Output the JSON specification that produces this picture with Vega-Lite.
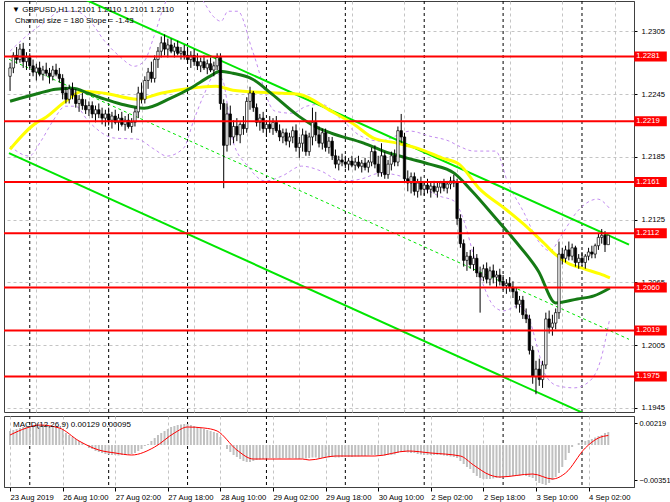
{
"$schema":"https://vega.github.io/schema/vega-lite/v6.json",
"background":"white",
"padding":{"left":2,"top":0,"right":0,"bottom":0},
"spacing":2,
"config":{"view":{"stroke":"#404040","strokeWidth":1},"font":"Liberation Sans",
"axis":{"labelFont":"Liberation Sans","labelFontSize":7.7,"labelColor":"#000","tickColor":"#000","domainColor":"#404040","title":null}},
"datasets":{
"seps":[{"i":6},{"i":30},{"i":54},{"i":78},{"i":102},{"i":126},{"i":150},{"i":174}],
"hlines":[{"p":1.2281},{"p":1.2219},{"p":1.2161},{"p":1.2112},{"p":1.2060},{"p":1.2019},{"p":1.1975}],
"chan":[{"ln":"upper","i":-0.32,"p":1.23682},{"ln":"upper","i":188.3,"p":1.21011},{"ln":"lower","i":-0.32,"p":1.21885},{"ln":"lower","i":188.3,"p":1.19202}],
"chanMid":[{"i":-0.32,"p":1.22783},{"i":188.3,"p":1.20105}],
"yellow":[{"i":0,"p":1.21923},{"i":8.8,"p":1.22191},{"i":10,"p":1.2221},{"i":16.9,"p":1.22382},{"i":22,"p":1.22478},{"i":28.8,"p":1.22458},{"i":38.7,"p":1.22401},{"i":45.9,"p":1.22458},{"i":54.9,"p":1.22506},{"i":62.7,"p":1.22525},{"i":67.8,"p":1.22487},{"i":82.7,"p":1.22458},{"i":87.8,"p":1.22449},{"i":97.7,"p":1.22287},{"i":104.6,"p":1.22162},{"i":110.6,"p":1.22029},{"i":117.8,"p":1.21981},{"i":123.8,"p":1.21933},{"i":131.5,"p":1.21838},{"i":136.6,"p":1.2178},{"i":142.6,"p":1.21551},{"i":150.7,"p":1.21351},{"i":157.6,"p":1.21169},{"i":162.7,"p":1.21016},{"i":165.7,"p":1.20921},{"i":169.6,"p":1.20835},{"i":174.7,"p":1.20778},{"i":179.5,"p":1.2073},{"i":182.5,"p":1.20692}],
"green":[{"i":0,"p":1.22382},{"i":8.8,"p":1.22458},{"i":13.9,"p":1.22497},{"i":19,"p":1.22506},{"i":23.8,"p":1.22458},{"i":28.8,"p":1.22401},{"i":33.9,"p":1.22353},{"i":40.8,"p":1.22315},{"i":48.9,"p":1.22411},{"i":54.9,"p":1.22506},{"i":60.9,"p":1.22621},{"i":63.9,"p":1.22668},{"i":67.8,"p":1.22649},{"i":73.8,"p":1.22592},{"i":79.7,"p":1.22449},{"i":87.8,"p":1.22239},{"i":92.6,"p":1.22143},{"i":97.7,"p":1.22076},{"i":107.6,"p":1.21981},{"i":113.6,"p":1.21905},{"i":120.8,"p":1.21838},{"i":127.6,"p":1.2178},{"i":135.1,"p":1.21694},{"i":140.5,"p":1.21523},{"i":147.7,"p":1.21265},{"i":153.7,"p":1.21045},{"i":160.7,"p":1.20759},{"i":166,"p":1.20453},{"i":172.6,"p":1.20491},{"i":177.6,"p":1.2052},{"i":182.5,"p":1.20596}],
"bbU":[{"i":0,"p":1.2286},{"i":4.9,"p":1.23003},{"i":10.9,"p":1.23146},{"i":15.4,"p":1.23242},{"i":19.9,"p":1.23242},{"i":24.4,"p":1.23146},{"i":28.8,"p":1.22955},{"i":33.3,"p":1.22812},{"i":37.8,"p":1.22716},{"i":40.8,"p":1.22764},{"i":43.8,"p":1.23003},{"i":46.8,"p":1.23289},{"i":49.8,"p":1.2348},{"i":54.3,"p":1.23528},{"i":58.8,"p":1.23337},{"i":61.8,"p":1.23194},{"i":64.2,"p":1.23146},{"i":66.3,"p":1.23242},{"i":69.3,"p":1.23242},{"i":73.8,"p":1.2286},{"i":80.6,"p":1.22287},{"i":85.7,"p":1.22267},{"i":90.2,"p":1.22334},{"i":94.7,"p":1.22353},{"i":100.7,"p":1.2221},{"i":106.7,"p":1.22048},{"i":112.7,"p":1.22},{"i":117.2,"p":1.22048},{"i":121.7,"p":1.22096},{"i":127.6,"p":1.22048},{"i":133.6,"p":1.22},{"i":136.6,"p":1.21952},{"i":141.1,"p":1.21905},{"i":147.7,"p":1.21905},{"i":151.6,"p":1.21589},{"i":156.1,"p":1.21331},{"i":160.7,"p":1.21045},{"i":164.3,"p":1.2095},{"i":167.6,"p":1.21093},{"i":172.7,"p":1.21332},{"i":178.7,"p":1.21446},{"i":182.3,"p":1.2136}],
"bbL":[{"i":0,"p":1.21952},{"i":5.8,"p":1.21857},{"i":9.4,"p":1.22},{"i":13,"p":1.22191},{"i":16.9,"p":1.22334},{"i":19.9,"p":1.22334},{"i":23.8,"p":1.22191},{"i":31.8,"p":1.22029},{"i":38.7,"p":1.22019},{"i":43.8,"p":1.21924},{"i":47.7,"p":1.21857},{"i":52.8,"p":1.21933},{"i":55.8,"p":1.22191},{"i":58.8,"p":1.2243},{"i":62.7,"p":1.22649},{"i":64.8,"p":1.22573},{"i":67.8,"p":1.22},{"i":72.3,"p":1.21761},{"i":77.6,"p":1.21618},{"i":82.7,"p":1.21666},{"i":88.7,"p":1.21761},{"i":94.7,"p":1.21713},{"i":100.7,"p":1.21618},{"i":106.7,"p":1.21637},{"i":112.7,"p":1.21694},{"i":118.7,"p":1.21666},{"i":124.6,"p":1.2157},{"i":130.6,"p":1.21475},{"i":135.1,"p":1.21427},{"i":138.1,"p":1.21236},{"i":141.1,"p":1.20902},{"i":144.1,"p":1.20615},{"i":147.1,"p":1.20424},{"i":150.1,"p":1.20377},{"i":154.6,"p":1.20424},{"i":157.6,"p":1.20329},{"i":160.7,"p":1.19995},{"i":162.7,"p":1.19775},{"i":166.6,"p":1.1966},{"i":171.7,"p":1.19641},{"i":175.7,"p":1.19689},{"i":179.6,"p":1.19899},{"i":182.3,"p":1.20281}],
"sig":[{"i":0,"v":0.0010},{"i":5,"v":0.0017},{"i":9,"v":0.0020},{"i":15,"v":0.0017},{"i":21,"v":0.0004},{"i":27,"v":-0.0005},{"i":32,"v":-0.0008},{"i":37,"v":-0.0010},{"i":44,"v":-0.0002},{"i":50,"v":0.0012},{"i":54,"v":0.0018},{"i":59,"v":0.0017},{"i":63,"v":0.0014},{"i":69,"v":-0.0005},{"i":74,"v":-0.0014},{"i":89,"v":-0.0014},{"i":91,"v":-0.0015},{"i":99,"v":-0.0011},{"i":111,"v":-0.0011},{"i":121,"v":-0.0006},{"i":128,"v":-0.0008},{"i":137,"v":-0.0011},{"i":141,"v":-0.0020},{"i":146,"v":-0.0030},{"i":149,"v":-0.0032},{"i":159,"v":-0.0029},{"i":165,"v":-0.0034},{"i":169,"v":-0.0028},{"i":175,"v":-0.0003},{"i":179,"v":0.0007},{"i":182,"v":0.00095}],
"macd":[{"i":0,"v":0.0014},{"i":1,"v":0.0015},{"i":2,"v":0.0016},{"i":3,"v":0.0017},{"i":4,"v":0.0018},{"i":5,"v":0.00185},{"i":6,"v":0.0019},{"i":7,"v":0.00195},{"i":8,"v":0.002},{"i":9,"v":0.002},{"i":10,"v":0.002},{"i":11,"v":0.00195},{"i":12,"v":0.0019},{"i":13,"v":0.0019},{"i":14,"v":0.0018},{"i":15,"v":0.0017},{"i":16,"v":0.0015},{"i":17,"v":0.0012},{"i":18,"v":0.001},{"i":19,"v":0.0008},{"i":20,"v":0.0006},{"i":21,"v":0.0004},{"i":22,"v":0.0002},{"i":23,"v":0.0},{"i":24,"v":-0.0003},{"i":25,"v":-0.0004},{"i":26,"v":-0.0006},{"i":27,"v":-0.0007},{"i":28,"v":-0.0008},{"i":29,"v":-0.0009},{"i":30,"v":-0.00095},{"i":31,"v":-0.001},{"i":32,"v":-0.001},{"i":33,"v":-0.00105},{"i":34,"v":-0.001},{"i":35,"v":-0.001},{"i":36,"v":-0.00095},{"i":37,"v":-0.0009},{"i":38,"v":-0.0008},{"i":39,"v":-0.0006},{"i":40,"v":-0.0004},{"i":41,"v":-0.0001},{"i":42,"v":0.0001},{"i":43,"v":0.0004},{"i":44,"v":0.0007},{"i":45,"v":0.001},{"i":46,"v":0.0012},{"i":47,"v":0.0014},{"i":48,"v":0.0016},{"i":49,"v":0.0018},{"i":50,"v":0.0019},{"i":51,"v":0.002},{"i":52,"v":0.00205},{"i":53,"v":0.0021},{"i":54,"v":0.0021},{"i":55,"v":0.002},{"i":56,"v":0.0019},{"i":57,"v":0.0018},{"i":58,"v":0.0017},{"i":59,"v":0.0016},{"i":60,"v":0.0015},{"i":61,"v":0.0014},{"i":62,"v":0.0013},{"i":63,"v":0.0012},{"i":64,"v":0.0008},{"i":65,"v":0.0},{"i":66,"v":-0.0004},{"i":67,"v":-0.0007},{"i":68,"v":-0.001},{"i":69,"v":-0.0012},{"i":70,"v":-0.0014},{"i":71,"v":-0.0016},{"i":72,"v":-0.0017},{"i":73,"v":-0.0017},{"i":74,"v":-0.0016},{"i":75,"v":-0.0015},{"i":76,"v":-0.00145},{"i":77,"v":-0.0014},{"i":78,"v":-0.00135},{"i":79,"v":-0.0013},{"i":80,"v":-0.0013},{"i":81,"v":-0.0013},{"i":82,"v":-0.00135},{"i":83,"v":-0.0013},{"i":84,"v":-0.0013},{"i":85,"v":-0.00135},{"i":86,"v":-0.0013},{"i":87,"v":-0.00135},{"i":88,"v":-0.0014},{"i":89,"v":-0.00135},{"i":90,"v":-0.00135},{"i":91,"v":-0.0013},{"i":92,"v":-0.00125},{"i":93,"v":-0.00125},{"i":94,"v":-0.0013},{"i":95,"v":-0.0013},{"i":96,"v":-0.00125},{"i":97,"v":-0.00125},{"i":98,"v":-0.0012},{"i":99,"v":-0.00125},{"i":100,"v":-0.00125},{"i":101,"v":-0.0012},{"i":102,"v":-0.0012},{"i":103,"v":-0.0012},{"i":104,"v":-0.0012},{"i":105,"v":-0.00115},{"i":106,"v":-0.00115},{"i":107,"v":-0.0011},{"i":108,"v":-0.0011},{"i":109,"v":-0.00105},{"i":110,"v":-0.001},{"i":111,"v":-0.001},{"i":112,"v":-0.00105},{"i":113,"v":-0.001},{"i":114,"v":-0.00105},{"i":115,"v":-0.001},{"i":116,"v":-0.001},{"i":117,"v":-0.00095},{"i":118,"v":-0.0008},{"i":119,"v":-0.0007},{"i":120,"v":-0.0007},{"i":121,"v":-0.00075},{"i":122,"v":-0.0008},{"i":123,"v":-0.0008},{"i":124,"v":-0.0009},{"i":125,"v":-0.00095},{"i":126,"v":-0.001},{"i":127,"v":-0.001},{"i":128,"v":-0.001},{"i":129,"v":-0.001},{"i":130,"v":-0.001},{"i":131,"v":-0.001},{"i":132,"v":-0.00105},{"i":133,"v":-0.0011},{"i":134,"v":-0.00115},{"i":135,"v":-0.0012},{"i":136,"v":-0.0013},{"i":137,"v":-0.0016},{"i":138,"v":-0.0019},{"i":139,"v":-0.0022},{"i":140,"v":-0.0024},{"i":141,"v":-0.0028},{"i":142,"v":-0.0031},{"i":143,"v":-0.0033},{"i":144,"v":-0.0034},{"i":145,"v":-0.0034},{"i":146,"v":-0.0034},{"i":147,"v":-0.00335},{"i":148,"v":-0.0033},{"i":149,"v":-0.0033},{"i":150,"v":-0.00325},{"i":151,"v":-0.0032},{"i":152,"v":-0.00315},{"i":153,"v":-0.0031},{"i":154,"v":-0.0031},{"i":155,"v":-0.00305},{"i":156,"v":-0.003},{"i":157,"v":-0.0031},{"i":158,"v":-0.0032},{"i":159,"v":-0.0033},{"i":160,"v":-0.0036},{"i":161,"v":-0.0038},{"i":162,"v":-0.0039},{"i":163,"v":-0.004},{"i":164,"v":-0.0038},{"i":165,"v":-0.0035},{"i":166,"v":-0.0032},{"i":167,"v":-0.0028},{"i":168,"v":-0.0022},{"i":169,"v":-0.0015},{"i":170,"v":-0.0008},{"i":171,"v":-0.0002},{"i":172,"v":0.0},{"i":173,"v":0.0002},{"i":174,"v":0.0003},{"i":175,"v":0.0004},{"i":176,"v":0.0005},{"i":177,"v":0.0006},{"i":178,"v":0.00075},{"i":179,"v":0.0009},{"i":180,"v":0.001},{"i":181,"v":0.0012},{"i":182,"v":0.00129}],
"candles":[
{"i":0,"o":1.2262,"h":1.2275,"l":1.2248,"c":1.227},{"i":1,"o":1.227,"h":1.2285,"l":1.2265,"c":1.2282},{"i":2,"o":1.2282,"h":1.229,"l":1.2274,"c":1.2278},{"i":3,"o":1.2278,"h":1.2293,"l":1.2275,"c":1.2288},{"i":4,"o":1.2288,"h":1.2294,"l":1.227,"c":1.2276},{"i":5,"o":1.2276,"h":1.2285,"l":1.2268,"c":1.228},
{"i":6,"o":1.228,"h":1.2284,"l":1.227,"c":1.2272},{"i":7,"o":1.2272,"h":1.2278,"l":1.2262,"c":1.2266},{"i":8,"o":1.2266,"h":1.2274,"l":1.2258,"c":1.227},{"i":9,"o":1.227,"h":1.2276,"l":1.2262,"c":1.2264},{"i":10,"o":1.2264,"h":1.2272,"l":1.2258,"c":1.2268},{"i":11,"o":1.2268,"h":1.2275,"l":1.2262,"c":1.2265},{"i":12,"o":1.2265,"h":1.227,"l":1.2255,"c":1.2262},{"i":13,"o":1.2262,"h":1.2272,"l":1.2258,"c":1.2268},{"i":14,"o":1.2268,"h":1.2274,"l":1.2262,"c":1.2264},{"i":15,"o":1.2264,"h":1.227,"l":1.2256,"c":1.226},{"i":16,"o":1.226,"h":1.2264,"l":1.224,"c":1.2246},{"i":17,"o":1.2246,"h":1.2252,"l":1.2236,"c":1.224},{"i":18,"o":1.224,"h":1.2254,"l":1.2236,"c":1.225},{"i":19,"o":1.225,"h":1.2256,"l":1.224,"c":1.2244},{"i":20,"o":1.2244,"h":1.225,"l":1.2232,"c":1.2236},{"i":21,"o":1.2236,"h":1.2244,"l":1.2228,"c":1.224},{"i":22,"o":1.224,"h":1.2246,"l":1.223,"c":1.2234},{"i":23,"o":1.2234,"h":1.224,"l":1.2226,"c":1.223},{"i":24,"o":1.223,"h":1.2238,"l":1.2224,"c":1.2234},{"i":25,"o":1.2234,"h":1.2238,"l":1.2222,"c":1.2226},{"i":26,"o":1.2226,"h":1.2234,"l":1.2218,"c":1.223},{"i":27,"o":1.223,"h":1.2236,"l":1.2222,"c":1.2226},{"i":28,"o":1.2226,"h":1.2232,"l":1.2216,"c":1.2222},{"i":29,"o":1.2222,"h":1.223,"l":1.2214,"c":1.2226},
{"i":30,"o":1.2226,"h":1.2232,"l":1.2215,"c":1.222},{"i":31,"o":1.222,"h":1.2228,"l":1.2212,"c":1.2224},{"i":32,"o":1.2224,"h":1.223,"l":1.2216,"c":1.2218},{"i":33,"o":1.2218,"h":1.2226,"l":1.221,"c":1.2222},{"i":34,"o":1.2222,"h":1.2228,"l":1.2214,"c":1.2216},{"i":35,"o":1.2216,"h":1.2224,"l":1.221,"c":1.222},{"i":36,"o":1.222,"h":1.2226,"l":1.2212,"c":1.2214},{"i":37,"o":1.2214,"h":1.2222,"l":1.2208,"c":1.2218},{"i":38,"o":1.2218,"h":1.2232,"l":1.2214,"c":1.2228},{"i":39,"o":1.2228,"h":1.2252,"l":1.2222,"c":1.2246},{"i":40,"o":1.2246,"h":1.2256,"l":1.2236,"c":1.224},{"i":41,"o":1.224,"h":1.2262,"l":1.2236,"c":1.2258},{"i":42,"o":1.2258,"h":1.227,"l":1.225,"c":1.2266},{"i":43,"o":1.2266,"h":1.2276,"l":1.2256,"c":1.226},{"i":44,"o":1.226,"h":1.2282,"l":1.2256,"c":1.2278},{"i":45,"o":1.2278,"h":1.229,"l":1.227,"c":1.2286},{"i":46,"o":1.2286,"h":1.23,"l":1.228,"c":1.2294},{"i":47,"o":1.2294,"h":1.2302,"l":1.2282,"c":1.2288},{"i":48,"o":1.2288,"h":1.2298,"l":1.228,"c":1.2292},{"i":49,"o":1.2292,"h":1.2298,"l":1.2284,"c":1.2286},{"i":50,"o":1.2286,"h":1.2294,"l":1.228,"c":1.229},{"i":51,"o":1.229,"h":1.2296,"l":1.2282,"c":1.2284},{"i":52,"o":1.2284,"h":1.229,"l":1.2278,"c":1.2286},{"i":53,"o":1.2286,"h":1.2292,"l":1.2278,"c":1.2282},
{"i":54,"o":1.2282,"h":1.229,"l":1.2274,"c":1.2278},{"i":55,"o":1.2278,"h":1.2286,"l":1.227,"c":1.2282},{"i":56,"o":1.2282,"h":1.2288,"l":1.2272,"c":1.2276},{"i":57,"o":1.2276,"h":1.2284,"l":1.2268,"c":1.2272},{"i":58,"o":1.2272,"h":1.228,"l":1.2266,"c":1.2276},{"i":59,"o":1.2276,"h":1.2282,"l":1.2268,"c":1.227},{"i":60,"o":1.227,"h":1.2278,"l":1.2264,"c":1.2274},{"i":61,"o":1.2274,"h":1.228,"l":1.2266,"c":1.2268},{"i":62,"o":1.2268,"h":1.2276,"l":1.2262,"c":1.2272},{"i":63,"o":1.2272,"h":1.2284,"l":1.2268,"c":1.228},{"i":64,"o":1.228,"h":1.2284,"l":1.223,"c":1.2236},{"i":65,"o":1.2236,"h":1.224,"l":1.2155,"c":1.2196},{"i":66,"o":1.2196,"h":1.2236,"l":1.219,"c":1.2226},{"i":67,"o":1.2226,"h":1.2234,"l":1.2196,"c":1.2204},{"i":68,"o":1.2204,"h":1.222,"l":1.2198,"c":1.2214},{"i":69,"o":1.2214,"h":1.2222,"l":1.22,"c":1.2206},{"i":70,"o":1.2206,"h":1.2218,"l":1.2198,"c":1.2216},{"i":71,"o":1.2216,"h":1.2224,"l":1.2206,"c":1.2212},{"i":72,"o":1.2212,"h":1.2242,"l":1.2208,"c":1.2238},{"i":73,"o":1.2238,"h":1.2252,"l":1.223,"c":1.2246},{"i":74,"o":1.2246,"h":1.2248,"l":1.2228,"c":1.2232},{"i":75,"o":1.2232,"h":1.2236,"l":1.2214,"c":1.2218},{"i":76,"o":1.2218,"h":1.2226,"l":1.221,"c":1.2222},{"i":77,"o":1.2222,"h":1.2228,"l":1.2208,"c":1.2212},
{"i":78,"o":1.2212,"h":1.222,"l":1.2204,"c":1.2216},{"i":79,"o":1.2216,"h":1.2224,"l":1.2208,"c":1.2212},{"i":80,"o":1.2212,"h":1.2222,"l":1.2206,"c":1.2218},{"i":81,"o":1.2218,"h":1.2224,"l":1.2208,"c":1.221},{"i":82,"o":1.221,"h":1.2216,"l":1.22,"c":1.2204},{"i":83,"o":1.2204,"h":1.2212,"l":1.2198,"c":1.2208},{"i":84,"o":1.2208,"h":1.2212,"l":1.2196,"c":1.22},{"i":85,"o":1.22,"h":1.2208,"l":1.2194,"c":1.2204},{"i":86,"o":1.2204,"h":1.2214,"l":1.2198,"c":1.221},{"i":87,"o":1.221,"h":1.2216,"l":1.219,"c":1.2194},{"i":88,"o":1.2194,"h":1.2204,"l":1.2184,"c":1.2198},{"i":89,"o":1.2198,"h":1.2212,"l":1.219,"c":1.2206},{"i":90,"o":1.2206,"h":1.221,"l":1.2186,"c":1.219},{"i":91,"o":1.219,"h":1.2208,"l":1.2186,"c":1.2204},{"i":92,"o":1.2204,"h":1.2232,"l":1.2196,"c":1.2218},{"i":93,"o":1.2218,"h":1.2228,"l":1.22,"c":1.2206},{"i":94,"o":1.2206,"h":1.2214,"l":1.2194,"c":1.2198},{"i":95,"o":1.2198,"h":1.2212,"l":1.2192,"c":1.2208},{"i":96,"o":1.2208,"h":1.2212,"l":1.219,"c":1.2194},{"i":97,"o":1.2194,"h":1.2204,"l":1.2188,"c":1.22},{"i":98,"o":1.22,"h":1.2204,"l":1.2182,"c":1.2186},{"i":99,"o":1.2186,"h":1.2192,"l":1.2174,"c":1.2178},{"i":100,"o":1.2178,"h":1.2186,"l":1.2172,"c":1.2182},{"i":101,"o":1.2182,"h":1.2188,"l":1.2176,"c":1.218},
{"i":102,"o":1.218,"h":1.2186,"l":1.2174,"c":1.2178},{"i":103,"o":1.2178,"h":1.2184,"l":1.2172,"c":1.2181},{"i":104,"o":1.2181,"h":1.2186,"l":1.2175,"c":1.2177},{"i":105,"o":1.2177,"h":1.2184,"l":1.2172,"c":1.218},{"i":106,"o":1.218,"h":1.2186,"l":1.2174,"c":1.2176},{"i":107,"o":1.2176,"h":1.2182,"l":1.217,"c":1.2179},{"i":108,"o":1.2179,"h":1.2184,"l":1.2172,"c":1.2175},{"i":109,"o":1.2175,"h":1.2182,"l":1.217,"c":1.218},{"i":110,"o":1.218,"h":1.2194,"l":1.2176,"c":1.219},{"i":111,"o":1.219,"h":1.2196,"l":1.2174,"c":1.2178},{"i":112,"o":1.2178,"h":1.2186,"l":1.2166,"c":1.217},{"i":113,"o":1.217,"h":1.2198,"l":1.2166,"c":1.2186},{"i":114,"o":1.2186,"h":1.219,"l":1.2164,"c":1.2168},{"i":115,"o":1.2168,"h":1.2182,"l":1.2164,"c":1.2178},{"i":116,"o":1.2178,"h":1.219,"l":1.2172,"c":1.2186},{"i":117,"o":1.2186,"h":1.2192,"l":1.2176,"c":1.218},{"i":118,"o":1.218,"h":1.2214,"l":1.2176,"c":1.221},{"i":119,"o":1.221,"h":1.2226,"l":1.2198,"c":1.2204},{"i":120,"o":1.2204,"h":1.2208,"l":1.216,"c":1.2164},{"i":121,"o":1.2164,"h":1.2172,"l":1.2152,"c":1.216},{"i":122,"o":1.216,"h":1.217,"l":1.215,"c":1.2166},{"i":123,"o":1.2166,"h":1.217,"l":1.2148,"c":1.2152},{"i":124,"o":1.2152,"h":1.2164,"l":1.2146,"c":1.216},{"i":125,"o":1.216,"h":1.2166,"l":1.2148,"c":1.2154},
{"i":126,"o":1.2154,"h":1.2162,"l":1.2148,"c":1.2158},{"i":127,"o":1.2158,"h":1.2164,"l":1.215,"c":1.2154},{"i":128,"o":1.2154,"h":1.216,"l":1.2146,"c":1.2157},{"i":129,"o":1.2157,"h":1.2162,"l":1.215,"c":1.2152},{"i":130,"o":1.2152,"h":1.216,"l":1.2146,"c":1.2156},{"i":131,"o":1.2156,"h":1.2162,"l":1.215,"c":1.216},{"i":132,"o":1.216,"h":1.2164,"l":1.2152,"c":1.2155},{"i":133,"o":1.2155,"h":1.2162,"l":1.215,"c":1.2159},{"i":134,"o":1.2159,"h":1.2166,"l":1.2154,"c":1.2162},{"i":135,"o":1.2162,"h":1.2168,"l":1.2156,"c":1.216},{"i":136,"o":1.216,"h":1.2164,"l":1.212,"c":1.2126},{"i":137,"o":1.2126,"h":1.213,"l":1.2098,"c":1.2102},{"i":138,"o":1.2102,"h":1.2106,"l":1.208,"c":1.2086},{"i":139,"o":1.2086,"h":1.2094,"l":1.2076,"c":1.209},{"i":140,"o":1.209,"h":1.2096,"l":1.2078,"c":1.2082},{"i":141,"o":1.2082,"h":1.2099,"l":1.2076,"c":1.2088},{"i":142,"o":1.2088,"h":1.2092,"l":1.207,"c":1.2074},{"i":143,"o":1.2074,"h":1.208,"l":1.2036,"c":1.207},{"i":144,"o":1.207,"h":1.2082,"l":1.2066,"c":1.2078},{"i":145,"o":1.2078,"h":1.2084,"l":1.2064,"c":1.2068},{"i":146,"o":1.2068,"h":1.208,"l":1.2062,"c":1.2076},{"i":147,"o":1.2076,"h":1.2082,"l":1.2064,"c":1.207},{"i":148,"o":1.207,"h":1.2076,"l":1.206,"c":1.2072},{"i":149,"o":1.2072,"h":1.2078,"l":1.2062,"c":1.2066},
{"i":150,"o":1.2066,"h":1.2072,"l":1.2058,"c":1.2062},{"i":151,"o":1.2062,"h":1.2068,"l":1.2054,"c":1.2064},{"i":152,"o":1.2064,"h":1.207,"l":1.2056,"c":1.206},{"i":153,"o":1.206,"h":1.2066,"l":1.205,"c":1.2056},{"i":154,"o":1.2056,"h":1.206,"l":1.204,"c":1.2044},{"i":155,"o":1.2044,"h":1.2052,"l":1.2036,"c":1.2048},{"i":156,"o":1.2048,"h":1.2052,"l":1.203,"c":1.2034},{"i":157,"o":1.2034,"h":1.204,"l":1.2026,"c":1.203},{"i":158,"o":1.203,"h":1.2034,"l":1.1996,"c":1.2},{"i":159,"o":1.2,"h":1.2004,"l":1.1968,"c":1.1975},{"i":160,"o":1.1975,"h":1.199,"l":1.1958,"c":1.1982},{"i":161,"o":1.1982,"h":1.1992,"l":1.1966,"c":1.1972},{"i":162,"o":1.1972,"h":1.199,"l":1.1964,"c":1.1986},{"i":163,"o":1.1986,"h":1.2036,"l":1.1982,"c":1.203},{"i":164,"o":1.203,"h":1.2038,"l":1.2016,"c":1.2022},{"i":165,"o":1.2022,"h":1.2034,"l":1.2014,"c":1.2026},{"i":166,"o":1.2026,"h":1.204,"l":1.202,"c":1.2036},{"i":167,"o":1.2036,"h":1.2104,"l":1.203,"c":1.2092},{"i":168,"o":1.2092,"h":1.2098,"l":1.2082,"c":1.2088},{"i":169,"o":1.2088,"h":1.21,"l":1.2084,"c":1.2096},{"i":170,"o":1.2096,"h":1.2104,"l":1.2086,"c":1.209},{"i":171,"o":1.209,"h":1.2102,"l":1.2086,"c":1.2098},{"i":172,"o":1.2098,"h":1.21,"l":1.208,"c":1.2084},{"i":173,"o":1.2084,"h":1.2092,"l":1.2078,"c":1.2088},
{"i":174,"o":1.2088,"h":1.2094,"l":1.208,"c":1.2084},{"i":175,"o":1.2084,"h":1.2092,"l":1.2078,"c":1.209},{"i":176,"o":1.209,"h":1.2098,"l":1.2086,"c":1.2094},{"i":177,"o":1.2094,"h":1.21,"l":1.2088,"c":1.2092},{"i":178,"o":1.2092,"h":1.2102,"l":1.2088,"c":1.21},{"i":179,"o":1.21,"h":1.2112,"l":1.2096,"c":1.2108},{"i":180,"o":1.2108,"h":1.2116,"l":1.2102,"c":1.211},{"i":181,"o":1.211,"h":1.2114,"l":1.2094,"c":1.2101},{"i":182,"o":1.2101,"h":1.211,"l":1.2101,"c":1.211}
]},
"vconcat":[
{"width":630,"height":411,
"layer":[
{"data":{"name":"seps"},"mark":{"type":"rule","color":"#000","strokeDash":[3,3],"strokeWidth":1},
 "encoding":{"x":{"field":"i","type":"quantitative","scale":{"domain":[-0.32,188.3],"nice":false,"zero":false},
  "axis":{"values":[8,16,24,32,40,48,56,64,72,80,88,96,104,112,120,128,136,144,152,160,168,176,184],"labels":false,"ticks":false,"domain":false,"grid":true,"gridDash":[3,3],"gridColor":"#c4c4c4","gridWidth":1}}}},
{"data":{"name":"bbU"},"mark":{"type":"line","color":"#c38cf0","strokeWidth":1,"strokeDash":[3,3],"clip":true,"interpolate":"monotone"},
 "encoding":{"x":{"field":"i","type":"quantitative","scale":{"domain":[-0.32,188.3],"nice":false,"zero":false}},
  "y":{"field":"p","type":"quantitative","scale":{"domain":[1.1941,1.2334],"nice":false,"zero":false},
   "axis":{"orient":"right","values":[1.2305,1.2275,1.2245,1.2215,1.2185,1.2155,1.2125,1.2095,1.2065,1.2035,1.2005,1.1975,1.1945],"format":".4f","tickSize":3,"labelPadding":4,"grid":true,"gridDash":[3,3],"gridColor":"#c4c4c4","labelOverlap":false}}}},
{"data":{"name":"bbL"},"mark":{"type":"line","color":"#c38cf0","strokeWidth":1,"strokeDash":[3,3],"clip":true,"interpolate":"monotone"},
 "encoding":{"x":{"field":"i","type":"quantitative","scale":{"domain":[-0.32,188.3],"nice":false,"zero":false}},
  "y":{"field":"p","type":"quantitative","scale":{"domain":[1.1941,1.2334],"nice":false,"zero":false}}}},
{"data":{"name":"chanMid"},"mark":{"type":"line","color":"#00e600","strokeWidth":1,"strokeDash":[3,3],"clip":true},
 "encoding":{"x":{"field":"i","type":"quantitative","scale":{"domain":[-0.32,188.3],"nice":false,"zero":false}},
  "y":{"field":"p","type":"quantitative","scale":{"domain":[1.1941,1.2334],"nice":false,"zero":false}}}},
{"data":{"name":"chan"},"mark":{"type":"line","color":"#00e600","strokeWidth":2,"clip":true},
 "encoding":{"x":{"field":"i","type":"quantitative","scale":{"domain":[-0.32,188.3],"nice":false,"zero":false}},
  "y":{"field":"p","type":"quantitative","scale":{"domain":[1.1941,1.2334],"nice":false,"zero":false}},
  "detail":{"field":"ln","type":"nominal"}}},
{"data":{"name":"yellow"},"mark":{"type":"line","color":"#ffff00","strokeWidth":3,"clip":true,"interpolate":"monotone"},
 "encoding":{"x":{"field":"i","type":"quantitative","scale":{"domain":[-0.32,188.3],"nice":false,"zero":false}},
  "y":{"field":"p","type":"quantitative","scale":{"domain":[1.1941,1.2334],"nice":false,"zero":false}}}},
{"data":{"name":"green"},"mark":{"type":"line","color":"#157a15","strokeWidth":3,"clip":true,"interpolate":"monotone"},
 "encoding":{"x":{"field":"i","type":"quantitative","scale":{"domain":[-0.32,188.3],"nice":false,"zero":false}},
  "y":{"field":"p","type":"quantitative","scale":{"domain":[1.1941,1.2334],"nice":false,"zero":false}}}},
{"data":{"name":"candles"},"mark":{"type":"rule","color":"#000","strokeWidth":1,"clip":true},
 "encoding":{"x":{"field":"i","type":"quantitative","scale":{"domain":[-0.32,188.3],"nice":false,"zero":false}},
  "y":{"field":"l","type":"quantitative","scale":{"domain":[1.1941,1.2334],"nice":false,"zero":false}},
  "y2":{"field":"h"}}},
{"data":{"name":"candles"},"mark":{"type":"bar","size":2.4,"stroke":"#000","strokeWidth":0.7,"clip":true},
 "encoding":{"x":{"field":"i","type":"quantitative","scale":{"domain":[-0.32,188.3],"nice":false,"zero":false}},
  "y":{"field":"o","type":"quantitative","scale":{"domain":[1.1941,1.2334],"nice":false,"zero":false}},
  "y2":{"field":"c"},
  "fill":{"condition":{"test":"datum.c >= datum.o","value":"#ffffff"},"value":"#000000"}}},
{"data":{"name":"hlines"},"mark":{"type":"rule","color":"#ff0000","strokeWidth":2},
 "encoding":{"y":{"field":"p","type":"quantitative","scale":{"domain":[1.1941,1.2334],"nice":false,"zero":false}}}},
{"data":{"name":"hlines"},"mark":{"type":"rule","color":"#ff0000","strokeWidth":10,"strokeCap":"butt","clip":false},
 "encoding":{"x":{"datum":189.9,"type":"quantitative","scale":{"domain":[-0.32,188.3],"nice":false,"zero":false}},"x2":{"datum":199.8},
  "y":{"field":"p","type":"quantitative","scale":{"domain":[1.1941,1.2334],"nice":false,"zero":false}}}},
{"data":{"name":"hlines"},"mark":{"type":"text","color":"#ffffff","fontSize":7.7,"align":"left","baseline":"middle","clip":false,"font":"Liberation Sans"},
 "encoding":{"x":{"datum":190.5,"type":"quantitative","scale":{"domain":[-0.32,188.3],"nice":false,"zero":false}},
  "y":{"field":"p","type":"quantitative","scale":{"domain":[1.1941,1.2334],"nice":false,"zero":false}},
  "text":{"field":"p","type":"quantitative","format":".4f"}}},
{"data":{"values":[{"t":"▼  GBPUSD,H1  1.2101 1.2110 1.2101 1.2110","i":0.6,"p":1.23258},{"t":"Channel size = 180 Slope = -1.43","i":1.5,"p":1.23146}]},
 "mark":{"type":"text","color":"#000","fontSize":8,"align":"left","baseline":"middle","font":"Liberation Sans, DejaVu Sans"},
 "encoding":{"x":{"field":"i","type":"quantitative","scale":{"domain":[-0.32,188.3],"nice":false,"zero":false}},
  "y":{"field":"p","type":"quantitative","scale":{"domain":[1.1941,1.2334],"nice":false,"zero":false}},
  "text":{"field":"t","type":"nominal"}}}
]},
{"width":630,"height":71,
"layer":[
{"data":{"name":"seps"},"mark":{"type":"rule","color":"#000","strokeDash":[3,3],"strokeWidth":1},
 "encoding":{"x":{"field":"i","type":"quantitative","scale":{"domain":[-0.32,188.3],"nice":false,"zero":false},
  "axis":{"values":[0,8,16,24,32,40,48,56,64,72,80,88,96,104,112,120,128,136,144,152,160,168,176,184],"grid":true,"gridDash":[3,3],"gridColor":"#c4c4c4","tickSize":4,"tickOpacity":{"condition":{"test":"datum.value % 16 == 0","value":1},"value":0},"labelAlign":"left","labelPadding":2,"labelOverlap":false,"labelFlush":false,"domainColor":"#404040",
   "labelExpr":"datum.value==0?'23 Aug 2019':datum.value==16?'26 Aug 10:00':datum.value==32?'27 Aug 02:00':datum.value==48?'27 Aug 18:00':datum.value==64?'28 Aug 10:00':datum.value==80?'29 Aug 02:00':datum.value==96?'29 Aug 18:00':datum.value==112?'30 Aug 10:00':datum.value==128?'2 Sep 02:00':datum.value==144?'2 Sep 18:00':datum.value==160?'3 Sep 10:00':datum.value==176?'4 Sep 02:00':''"}}}},
{"mark":{"type":"rule","color":"#c4c4c4","strokeDash":[3,3],"strokeWidth":1},
 "encoding":{"y":{"datum":0,"type":"quantitative","scale":{"domain":[-0.0042,0.0029],"nice":false,"zero":false},
  "axis":{"orient":"right","values":[0.00219,0,-0.00351],"labelExpr":"datum.value==0?'0.00':format(datum.value,'.5f')","tickSize":3,"labelPadding":2,"labelFontSize":7.4,"grid":false,"labelOverlap":false}}}},
{"data":{"name":"macd"},"mark":{"type":"bar","size":2,"color":"#c0c0c0"},
 "encoding":{"x":{"field":"i","type":"quantitative","scale":{"domain":[-0.32,188.3],"nice":false,"zero":false}},
  "y":{"field":"v","type":"quantitative","scale":{"domain":[-0.0042,0.0029],"nice":false,"zero":false}},
  "y2":{"datum":0}}},
{"data":{"name":"sig"},"mark":{"type":"line","color":"#ff0000","strokeWidth":1,"interpolate":"monotone","clip":true},
 "encoding":{"x":{"field":"i","type":"quantitative","scale":{"domain":[-0.32,188.3],"nice":false,"zero":false}},
  "y":{"field":"v","type":"quantitative","scale":{"domain":[-0.0042,0.0029],"nice":false,"zero":false}}}},
{"data":{"values":[{"t":"MACD(12,26,9) 0.00129 0.00095","i":0.9,"v":0.002}]},
 "mark":{"type":"text","color":"#000","fontSize":8,"align":"left","baseline":"middle","font":"Liberation Sans"},
 "encoding":{"x":{"field":"i","type":"quantitative","scale":{"domain":[-0.32,188.3],"nice":false,"zero":false}},
  "y":{"field":"v","type":"quantitative","scale":{"domain":[-0.0042,0.0029],"nice":false,"zero":false}},
  "text":{"field":"t","type":"nominal"}}}
]}
]
}
